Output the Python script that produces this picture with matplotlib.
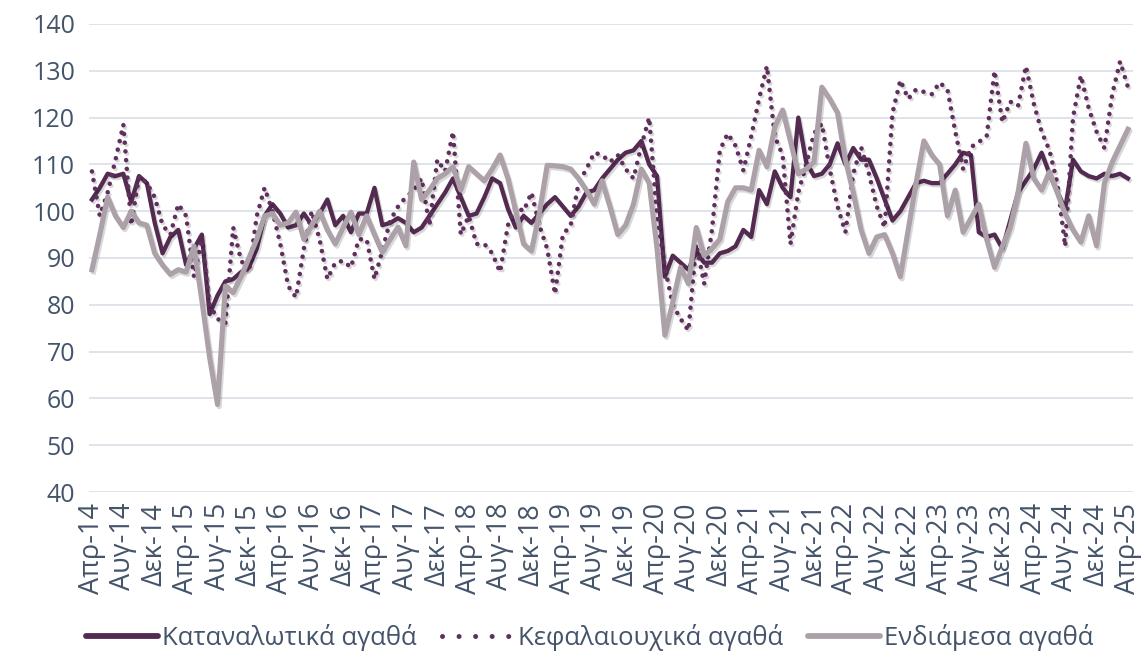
import matplotlib.pyplot as plt
import matplotlib.patheffects as pe
from matplotlib.lines import Line2D
import numpy as np

plt.rcParams['font.family'] = ['Open Sans', 'DejaVu Sans']

# monthly index values, Apr-14 .. Apr-25
consumer = [
    102.5, 105, 108, 107.5, 108, 102, 107.5, 106, 97.5, 91, 94.5, 96,
    88.5, 92, 95, 78, 82, 85, 85.5, 87, 88, 92, 99, 101.5,
    99.5, 96.5, 97, 99.5, 97, 99.5, 102.5, 97, 99, 95.5, 99.5, 99.5,
    105, 97, 97.5, 98.5, 97.5, 95.5, 96.5, 99, 101.5, 104, 107, 103,
    99, 99.5, 103, 107, 106, 100.5, 96.5, 99, 97.5, 99.5, 101.5, 103,
    101, 99, 101, 104, 104.5, 107, 109, 111, 112.5, 113, 115, 110,
    107.5, 86, 90.5, 89, 87.5, 91.5, 89, 89, 91, 91.5, 92.5, 96,
    94.5, 104.5, 101.5, 108.5, 105, 103, 120, 110.5, 107.5, 108, 110, 114.5,
    110, 113.5, 111, 111, 107, 102.5, 98, 100, 103, 106, 106.5, 106,
    106, 108, 110, 112.5, 112, 95.5, 94.5, 95, 92, 98, 104, 106.5,
    109, 112.5, 108, 104, 100.5, 111, 108.5, 107.5, 107, 108, 107.5, 108, 107,
]

capital = [
    108.5, 99, 104, 111, 118.5, 97, 107.5, 106, 103, 97, 95, 101.5,
    99, 86, 94, 80, 77, 76, 96.5, 89.5, 87, 99, 105, 100,
    93, 84, 81.6, 92, 100, 94, 85.5, 89, 89.4, 88, 94, 94,
    85.5, 91.6, 98, 101, 103, 104.4, 107, 97, 111, 108.5, 117, 95,
    99, 93, 93, 91, 87, 97, 101, 100, 104, 97, 92, 82.3,
    95, 97, 106, 109, 112.5, 112, 110.5, 112, 109, 107, 114, 120,
    99, 88, 80, 77, 74.5, 93, 84.5, 96, 113, 116.6, 114, 108.7,
    116, 124, 131, 116, 112, 93, 104, 110, 116.6, 118.7, 109, 101,
    95.5, 108, 113.7, 108, 101, 96.5, 121, 128, 124, 126, 125.5, 125,
    127.5, 126, 117, 109, 113.7, 114.8, 116, 130, 119, 123.4, 122.5, 131,
    123, 117, 113, 106, 92.5, 120, 129, 122, 117, 113.5, 125, 132, 126.5,
]

intermediate = [
    87.5, 95, 103, 99, 96.5, 100, 97.5, 97, 91, 88.5, 86.5, 87.5,
    87, 92.5, 81, 68.7, 58.7, 84, 82.6, 86, 90, 94, 99, 99.5,
    97, 97.5, 99.8, 94, 97, 100, 96, 93, 96.5, 99.8, 95, 99,
    95, 91.2, 94, 96.6, 92.6, 110.5, 102.5, 104.5, 107, 108, 109.5, 104.5,
    109.5, 108, 106.5, 109, 112, 107, 100, 93, 91.5, 99.5, 109.8, 109.7,
    109.5, 109, 107, 104.5, 101.5, 106.5, 101, 95, 97, 101.5, 109, 106,
    92, 73.5, 80.5, 88, 84.5, 96.5, 90.5, 92, 94, 102, 105, 105,
    104.5, 113, 109.5, 118, 121.6, 115, 108, 109, 110.5, 126.5, 124, 121,
    111, 104, 96, 91, 94.5, 95, 91, 86, 96, 106, 115, 112,
    110, 99, 104.5, 95.5, 98.5, 101.5, 94, 88, 92.5, 96.5, 104, 114.5,
    107, 104.5, 108.4, 104, 99.4, 96, 93.4, 99, 92.6, 106, 110.5, 114, 117.5,
]

month_names = ['Απρ', 'Αυγ', 'Δεκ']
years = list(range(14, 26))
tick_labels = [f'{m}-{y}' for y in years for m in month_names][:34]

series_names = ['Καταναλωτικά αγαθά', 'Κεφαλαιουχικά αγαθά', 'Ενδιάμεσα αγαθά']

c_cons = '#532B51'
c_cap = '#612F5E'
c_int = '#ACA1A9'
text_c = '#44546A'

fig = plt.figure(figsize=(11.45, 6.59), dpi=100)
ax = fig.add_axes([0.0777, 0.2534, 0.9118, 0.7102])

x = np.arange(len(consumer))
shadow = [pe.SimpleLineShadow(offset=(1.2, -1.6), alpha=0.15), pe.Normal()]

ax.plot(x, consumer, color=c_cons, lw=3.1, solid_joinstyle='round',
        path_effects=shadow, zorder=3)
ax.plot(x, capital, color=c_cap, lw=3.3, linestyle=(0, (0.01, 1.9)),
        dash_capstyle='round', path_effects=shadow, zorder=3)
ax.plot(x, intermediate, color=c_int, lw=3.7, solid_joinstyle='round',
        path_effects=shadow, zorder=3)

ax.set_ylim(40, 140)
ax.set_yticks(range(40, 141, 10))
ax.set_xlim(-0.38, 132.64)
ax.set_xticks(np.arange(0, 133, 4))
ax.set_xticklabels(tick_labels, rotation=90)
ax.tick_params(axis='both', length=0, colors=text_c)
ax.tick_params(axis='y', pad=10, labelsize=18)
ax.tick_params(axis='x', pad=8, labelsize=19.5)

ax.yaxis.grid(True, color='#DDE2E8', lw=1.3)
ax.set_axisbelow(True)
for s in ax.spines.values():
    s.set_visible(False)

handles = [
    Line2D([], [], color=c_cons, lw=4.2, solid_capstyle='round'),
    Line2D([], [], color=c_cap, lw=3.6, linestyle=(0, (0.01, 3.3)), dash_capstyle='round'),
    Line2D([], [], color=c_int, lw=4.2, solid_capstyle='round'),
]
fig.legend(handles, series_names, loc='center', bbox_to_anchor=(0.515, 0.032),
           ncol=3, frameon=False, fontsize=18.5, labelcolor=text_c,
           handlelength=2.8, handletextpad=0.15, columnspacing=1.0)

fig.savefig('out.png', dpi=100)
